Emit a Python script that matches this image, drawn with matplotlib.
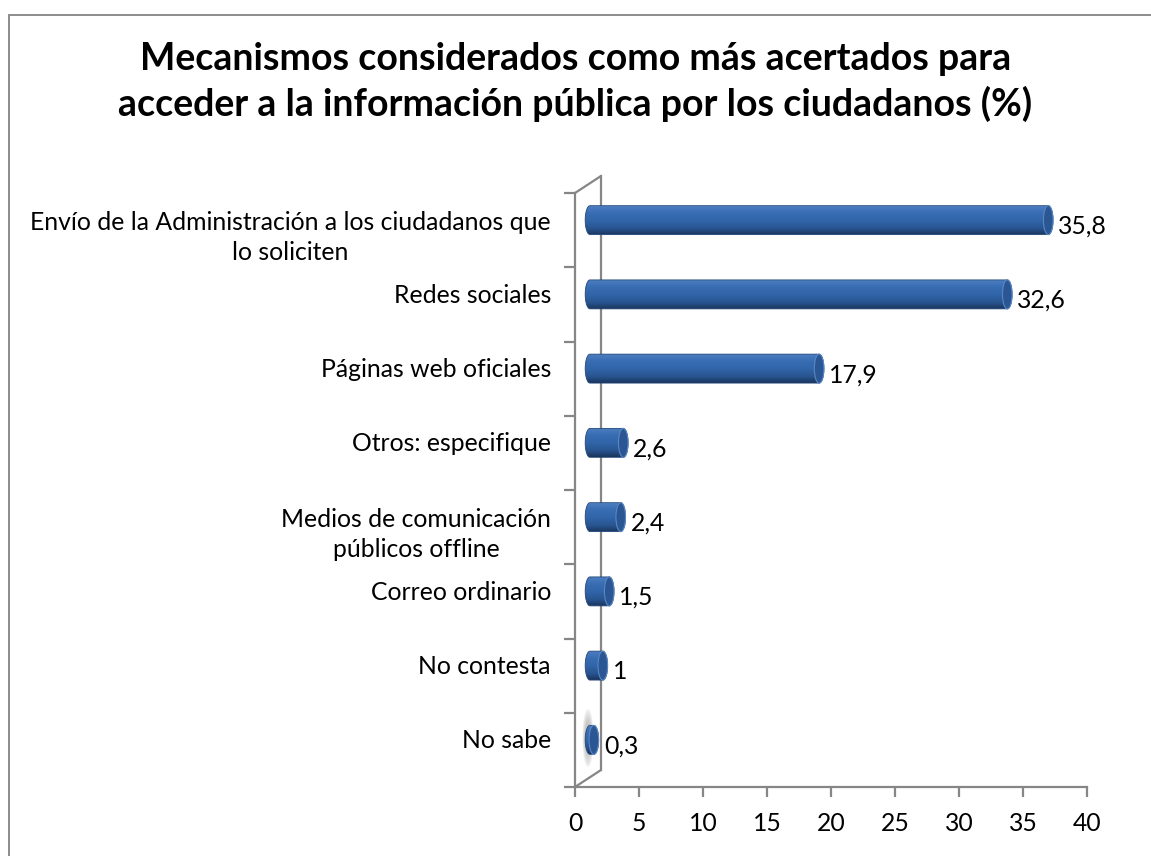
import numpy as np
import matplotlib
matplotlib.use("Agg")
import matplotlib.pyplot as plt
from matplotlib import transforms
from matplotlib.patches import Rectangle, Ellipse, Polygon, ConnectionPatch
from matplotlib.colors import to_rgb

# ---------------- data ----------------
categories = [
    "Envío de la Administración a los ciudadanos que\nlo soliciten",
    "Redes sociales",
    "Páginas web oficiales",
    "Otros: especifique",
    "Medios de comunicación\npúblicos offline",
    "Correo ordinario",
    "No contesta",
    "No sabe",
]
values = [35.8, 32.6, 17.9, 2.6, 2.4, 1.5, 1.0, 0.3]
value_labels = ["35,8", "32,6", "17,9", "2,6", "2,4", "1,5", "1", "0,3"]
x_ticks = [0, 5, 10, 15, 20, 25, 30, 35, 40]
title = ("Mecanismos considerados como más acertados para\n"
         "acceder a la información pública por los ciudadanos (%)")

# ---------------- figure ----------------
W, H = 1151, 856
fig = plt.figure(figsize=(W / 100, H / 100), dpi=100)
fig.patch.set_facecolor("white")
FONT = "Lato"
FS = 17.8
AXC = "#868686"

ax = fig.add_axes([575 / W, 1 - 787 / H, 512 / W, 594 / H])
n = len(categories)
ax.set_xlim(0, 40)
ax.set_ylim(n - 0.5, -0.5)
ax.set_facecolor("none")
for s in ("top", "right"):
    ax.spines[s].set_visible(False)
for s in ("left", "bottom"):
    ax.spines[s].set_color(AXC)
    ax.spines[s].set_linewidth(1.6)

ax.set_xticks(x_ticks)
ax.set_xticklabels([str(t) for t in x_ticks], fontsize=FS, family=FONT)
ax.tick_params(axis="x", length=7, width=1.6, color=AXC, pad=11, direction="out")
ax.set_yticks([])
ax.set_yticks(np.arange(-0.5, n, 1), minor=True)
ax.tick_params(axis="y", which="minor", length=8, width=1.6, color=AXC,
               direction="out", labelleft=False)

# 3D depth transforms
t_back = transforms.offset_copy(ax.transData, fig=fig, x=26, y=17, units="dots")
t_bar = transforms.offset_copy(ax.transData, fig=fig, x=15, y=10, units="dots")
t_val = transforms.offset_copy(ax.transData, fig=fig, x=25, y=4, units="dots")

# back wall edge + diagonals
ax.plot([0, 0], [-0.5, n - 0.5], color=AXC, lw=1.6, transform=t_back,
        clip_on=False, zorder=1)
for yy in (-0.5, n - 0.5):
    cp = ConnectionPatch(xyA=(0, yy), coordsA=ax.transData, xyB=(0, yy),
                         coordsB=t_back, color=AXC, lw=1.6)
    cp.set_clip_on(False)
    fig.add_artist(cp)

# gradient for cylinders (top -> bottom)
stops = [(0.0, "#4d7ec0"), (0.2, "#3b6fb5"), (0.5, "#3165a9"),
         (0.78, "#28558f"), (1.0, "#1a355c")]
N = 64
grad = np.zeros((N, 1, 3))
for k in range(N):
    f = k / (N - 1)
    for (p0, c0), (p1, c1) in zip(stops[:-1], stops[1:]):
        if p0 <= f <= p1:
            a = (f - p0) / (p1 - p0)
            grad[k, 0] = (1 - a) * np.array(to_rgb(c0)) + a * np.array(to_rgb(c1))
            break

bh = 0.39          # bar thickness (category units)
cw = 0.75          # cap ellipse width (x units)
theta_r = np.linspace(np.pi / 2, -np.pi / 2, 40)
theta_l = np.linspace(-np.pi / 2, -3 * np.pi / 2, 40)

# soft shadow by the smallest bar (as in the reference)
sh = np.ones((40, 20, 4))
sh[..., :3] = 0.4
yy_, xx_ = np.mgrid[-1:1:40j, -1:1:20j]
sh[..., 3] = 0.6 * np.clip(1 - np.sqrt(xx_ ** 2 + (yy_ * 0.95) ** 2), 0, 1) ** 0.7
ax.imshow(sh, extent=(-0.6, 0.3, n - 1 + 0.36, n - 1 - 0.42),
          transform=t_bar, aspect="auto", interpolation="bilinear", zorder=2)

for i, v in enumerate(values):
    xr = v
    pts = [(xr + cw / 2 * np.cos(t), i - bh / 2 * np.sin(t)) for t in theta_r]
    pts += [(cw / 2 * np.cos(t), i - bh / 2 * np.sin(t)) for t in theta_l]
    clip = Polygon(pts, closed=True, transform=t_bar)
    im = ax.imshow(grad, extent=(-cw / 2, xr + cw / 2, i + bh / 2, i - bh / 2),
                   transform=t_bar, aspect="auto", interpolation="bilinear",
                   zorder=3)
    im.set_clip_path(clip)
    ax.add_patch(Polygon(pts, closed=True, transform=t_bar, facecolor="none",
                         edgecolor="#24477a", lw=0.6, zorder=4))
    ax.add_patch(Ellipse((xr, i), cw, bh, transform=t_bar, facecolor="#2a5794",
                         edgecolor="#5a86c2", lw=0.8, zorder=5))
    ax.text(v, i, value_labels[i], transform=t_val, ha="left", va="center",
            fontsize=FS, family=FONT, color="black", zorder=6)

# category labels
for i, lab in enumerate(categories):
    dy = 9 if "\n" not in lab else -7
    tr = transforms.offset_copy(ax.get_yaxis_transform(), fig=fig, x=-24, y=dy,
                                units="dots")
    ax.text(0, i, lab, transform=tr, ha="right", va="center",
            multialignment="center", fontsize=FS, family=FONT,
            color="black", linespacing=1.36)

ax.set_xlim(0, 40)
ax.set_ylim(n - 0.5, -0.5)

# title
fig.text(0.5, 1 - 82 / H, title, ha="center", va="center", fontsize=27,
         fontweight="bold", family=FONT, linespacing=1.31)

# chart border (cropped at right/bottom)
fig.add_artist(Rectangle((8.5 / W, -0.1), 1.5, 1 - 14.5 / H + 0.1,
                         transform=fig.transFigure, fill=False,
                         edgecolor="#8c8c8c", lw=1.4))

fig.savefig("out.png", dpi=100)
